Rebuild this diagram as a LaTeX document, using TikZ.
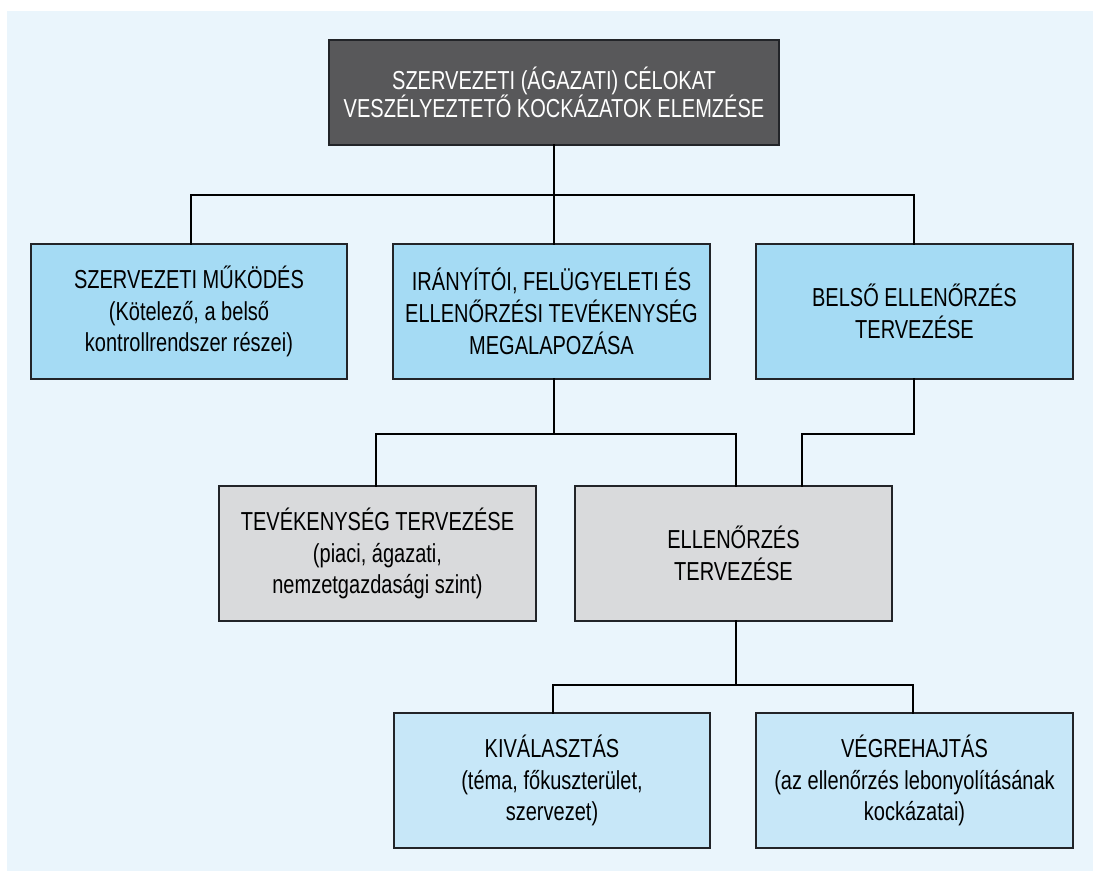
\documentclass[tikz,border=0pt]{standalone}
\usepackage{fontspec}
\setmainfont[FakeStretch=0.77]{Liberation Sans}
\definecolor{bgc}{HTML}{EAF5FC}
\definecolor{topc}{HTML}{58585A}
\definecolor{bluec}{HTML}{A5DBF4}
\definecolor{grayc}{HTML}{D9DADC}
\definecolor{lbluec}{HTML}{C7E7F8}
\definecolor{edgec}{HTML}{222428}
\tikzset{
  box/.style={draw=edgec, line width=1.3pt, rectangle, inner sep=0pt, align=center,
    font=\fontsize{26}{31.7}\selectfont, text=black},
  topbox/.style={box, fill=topc, text=white, font=\fontsize{26}{28.5}\selectfont},
  bluebox/.style={box, fill=bluec},
  graybox/.style={box, fill=grayc},
  lbluebox/.style={box, fill=lbluec},
  conn/.style={line width=2.6pt, black, line cap=rect}
}
\begin{document}
\begin{tikzpicture}[x=1pt,y=-1pt]
\useasboundingbox (0,0) rectangle (1093,871);
\fill[white] (0,0) rectangle (1093,871);
\fill[bgc] (7,11) rectangle (1093,871);
% nodes
\node[topbox, minimum width=450pt, minimum height=105pt] (top) at (554,92.5)
  {SZERVEZETI (ÁGAZATI) CÉLOKAT\\VESZÉLYEZTETŐ KOCKÁZATOK ELEMZÉSE};
\node[bluebox, minimum width=316pt, minimum height=135pt] (b1) at (189,311.5)
  {SZERVEZETI MŰKÖDÉS\\(Kötelező, a belső\\kontrollrendszer részei)};
\node[bluebox, minimum width=317pt, minimum height=135pt] (b2) at (551.5,311.5)
  {IRÁNYÍTÓI, FELÜGYELETI ÉS\\ELLENŐRZÉSI TEVÉKENYSÉG\\MEGALAPOZÁSA};
\node[bluebox, minimum width=317pt, minimum height=135pt] (b3) at (914.5,311.5)
  {BELSŐ ELLENŐRZÉS\\TERVEZÉSE};
\node[graybox, minimum width=317pt, minimum height=135pt] (g1) at (377.5,553.5)
  {TEVÉKENYSÉG TERVEZÉSE\\(piaci, ágazati,\\nemzetgazdasági szint)};
\node[graybox, minimum width=317pt, minimum height=135pt] (g2) at (733.5,553.5)
  {ELLENŐRZÉS\\TERVEZÉSE};
\node[lbluebox, minimum width=316pt, minimum height=135pt] (l1) at (552,780.5)
  {KIVÁLASZTÁS\\(téma, főkuszterület,\\szervezet)};
\node[lbluebox, minimum width=317pt, minimum height=135pt] (l2) at (914.5,780.5)
  {VÉGREHAJTÁS\\(az ellenőrzés lebonyolításának\\kockázatai)};
% junction coordinates
\coordinate (j1) at (554,195);
\coordinate (j2) at (554,434);
\coordinate (j3) at (914,434);
\coordinate (j4) at (736,685);
% connectors
\draw[conn] (top.south -| j1) -- (j1);
\draw[conn] (191,195) -- (914,195);
\draw[conn] (j1 -| 191,0) -- (b1.north -| 191,0);
\draw[conn] (j1) -- (b2.north -| j1);
\draw[conn] (914,195) -- (b3.north -| 914,0);
\draw[conn] (b2.south -| j2) -- (j2);
\draw[conn] (376,434) -- (736,434);
\draw[conn] (376,434) -- (g1.north -| 376,0);
\draw[conn] (736,434) -- (g2.north -| 736,0);
\draw[conn] (b3.south -| j3) -- (j3) -- (802,434) -- (g2.north -| 802,0);
\draw[conn] (g2.south -| j4) -- (j4);
\draw[conn] (553,685) -- (913,685);
\draw[conn] (553,685) -- (l1.north -| 553,0);
\draw[conn] (913,685) -- (l2.north -| 913,0);
\end{tikzpicture}
\end{document}
